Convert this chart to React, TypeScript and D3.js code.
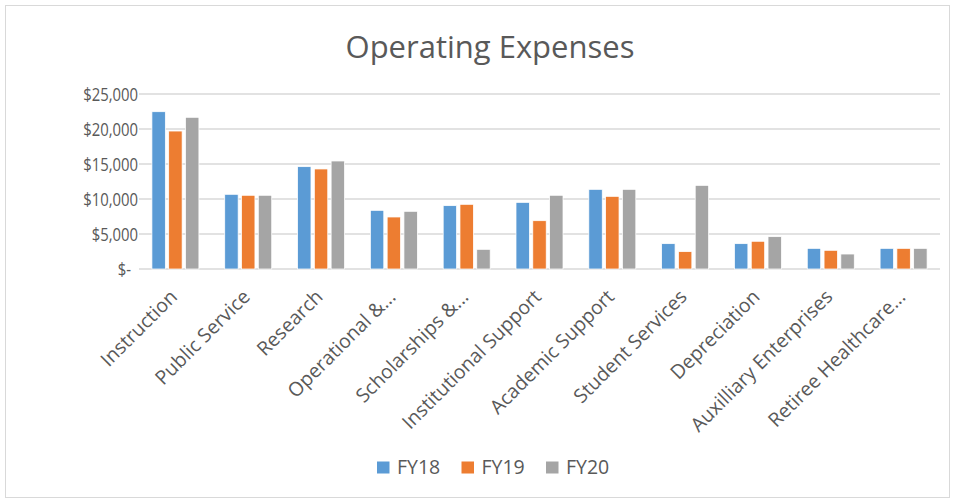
import React from 'react'
import * as d3 from 'd3'

const categories = [
    'Instruction', 'Public Service', 'Research', 'Operational &...', 'Scholarships &...',
    'Institutional Support', 'Academic Support', 'Student Services', 'Depreciation',
    'Auxilliary Enterprises', 'Retiree Healthcare...',
]
const seriesNames = ['FY18', 'FY19', 'FY20']
const fy18 = [22470, 10670, 14620, 8380, 9050, 9520, 11380, 3620, 3620, 2950, 2950]
const fy19 = [19710, 10530, 14290, 7430, 9240, 6900, 10380, 2480, 3960, 2670, 2950]
const fy20 = [21670, 10530, 15430, 8240, 2810, 10530, 11380, 11950, 4620, 2140, 2950]
const yTicks = [0, 5000, 10000, 15000, 20000, 25000]
const colors = ['#5B9BD5', '#ED7D31', '#A5A5A5']

const W = 958
const H = 502
const font = '"Open Sans", Lato, sans-serif'
const plot = { left: 139, right: 940, top: 94, bottom: 269 }

const App = () => {
    const values = [fy18, fy19, fy20]
    const x = d3.scaleBand().domain(categories).range([plot.left, plot.right])
    const inner = d3.scaleBand().domain(seriesNames).range([0, 47]).paddingInner(0.2)
    const y = d3.scaleLinear().domain([0, 25000]).range([plot.bottom, plot.top])
    const fmt = (v: number) => (v === 0 ? '$-' : '$' + d3.format(',')(v))
    const groupOffset = (x.bandwidth() - 47) / 2

    return (
        <div style={{ position: 'fixed', left: 0, top: 0 }}>
            <svg width={W} height={H} style={{ display: 'block', background: '#fff' }}>
                <rect x={5.5} y={5.5} width={944} height={492} fill="#fff" stroke="#D9D9D9" />
                <text x={490} y={58} textAnchor="middle" fontFamily={font} fontSize={31} fill="#595959">
                    Operating Expenses
                </text>
                {yTicks.map(t => (
                    <g key={t}>
                        <line x1={plot.left} x2={plot.right} y1={y(t)} y2={y(t)} stroke="#D9D9D9" strokeWidth={1.5} />
                        {/* accounting format pads the dash, so zero sits a little left */}
                        <text
                            transform={`translate(${t === 0 ? 131 : 138},${y(t) + 6.5}) scale(0.85,1)`}
                            textAnchor="end"
                            fontFamily={font}
                            fontSize={17.5}
                            fill="#595959"
                        >
                            {fmt(t)}
                        </text>
                    </g>
                ))}
                {categories.map((c, i) => (
                    <g key={c}>
                        {seriesNames.map((s, j) => (
                            <rect
                                key={s}
                                x={(x(c) as number) + groupOffset + (inner(s) as number)}
                                y={y(values[j][i])}
                                width={inner.bandwidth()}
                                height={y(0) - y(values[j][i])}
                                fill={colors[j]}
                                stroke="#fff"
                                strokeWidth={0.75}
                            />
                        ))}
                        <text
                            transform={`translate(${(x(c) as number) + x.bandwidth() / 2 + 3},${plot.bottom + 29}) rotate(-45)`}
                            textAnchor="end"
                            fontFamily={font}
                            fontSize={19.5}
                            fill="#595959"
                        >
                            {c}
                        </text>
                    </g>
                ))}
                {seriesNames.map((s, j) => (
                    <g key={s} transform={`translate(${377 + j * 84.5},${461.5})`}>
                        <rect x={0} y={0} width={12.5} height={12} fill={colors[j]} />
                        <text x={20} y={12.5} fontFamily={font} fontSize={19.5} fill="#595959">{s}</text>
                    </g>
                ))}
            </svg>
        </div>
    )
}

export default App
